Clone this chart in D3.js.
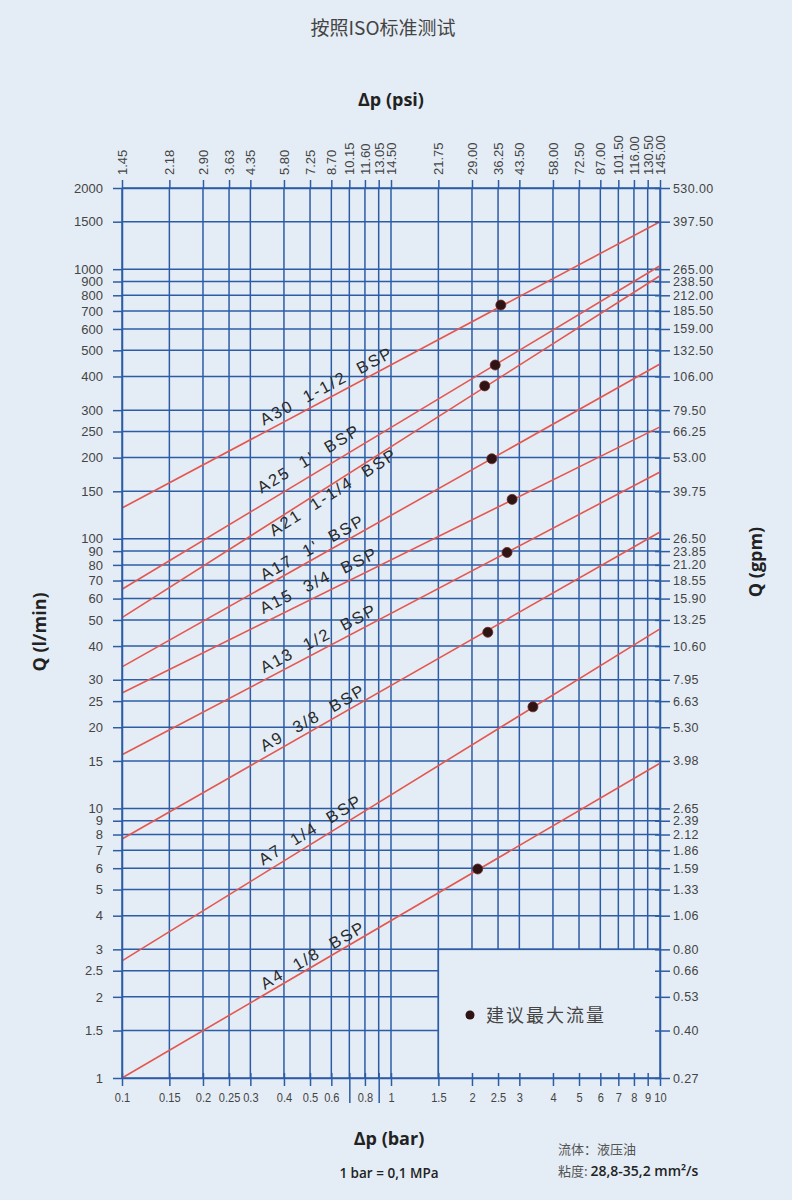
<!DOCTYPE html>
<html>
<head>
<meta charset="utf-8">
<script src="https://cdn.jsdelivr.net/npm/d3@7"></script>
<style>
body { margin: 0; background: #e4edf5; }
svg { display: block; }
</style>
</head>
<body>
<div id="chart"></div>
<script>
// pressure ticks (bar) and the psi equivalents on top
var barTicks = [0.1, 0.15, 0.2, 0.25, 0.3, 0.4, 0.5, 0.6, 0.7, 0.8, 0.9, 1, 1.5, 2, 2.5, 3, 4, 5, 6, 7, 8, 9, 10];
var barLabels = ["0.1", "0.15", "0.2", "0.25", "0.3", "0.4", "0.5", "0.6", "", "0.8", "", "1", "1.5", "2", "2.5", "3", "4", "5", "6", "7", "8", "9", "10"];
var psiLabels = ["1.45", "2.18", "2.90", "3.63", "4.35", "5.80", "7.25", "8.70", "10.15", "11.60", "13.05", "14.50", "21.75", "29.00", "36.25", "43.50", "58.00", "72.50", "87.00", "101.50", "116.00", "130.50", "145.00"];

// flow ticks (l/min) and gpm on the right
var flowTicks = [1, 1.5, 2, 2.5, 3, 4, 5, 6, 7, 8, 9, 10, 15, 20, 25, 30, 40, 50, 60, 70, 80, 90, 100, 150, 200, 250, 300, 400, 500, 600, 700, 800, 900, 1000, 1500, 2000];
var flowLabels = ["1", "1.5", "2", "2.5", "3", "4", "5", "6", "7", "8", "9", "10", "15", "20", "25", "30", "40", "50", "60", "70", "80", "90", "100", "150", "200", "250", "300", "400", "500", "600", "700", "800", "900", "1000", "1500", "2000"];
var gpmLabels = ["0.27", "0.40", "0.53", "0.66", "0.80", "1.06", "1.33", "1.59", "1.86", "2.12", "2.39", "2.65", "3.98", "5.30", "6.63", "7.95", "10.60", "13.25", "15.90", "18.55", "21.20", "23.85", "26.50", "39.75", "53.00", "66.25", "79.50", "106.00", "132.50", "159.00", "185.50", "212.00", "238.50", "265.00", "397.50", "530.00"];

// valve curves: flow at 0.1 bar and at 10 bar
var valveNames = ["A30  1-1/2  BSP", "A25  1'  BSP", "A21  1-1/4  BSP", "A17  1'  BSP", "A15  3/4  BSP", "A13  1/2  BSP", "A9  3/8  BSP", "A7  1/4  BSP", "A4  1/8  BSP"];
var qAtLow = [130, 65, 51, 33.5, 26.8, 15.8, 7.7, 2.72, 1.0];
var qAtHigh = [1500, 1030, 945, 445, 260, 177, 106, 46.3, 14.7];

// recommended max flow points
var maxDp = [2.56, 2.44, 2.23, 2.37, 2.82, 2.70, 2.29, 3.37, 2.10];
var maxQ = [736, 441, 369, 198, 140, 89, 45, 23.8, 5.96];

var blue = "#2d5ca6",
    red = "#e4574f",
    bg = "#e4edf5";

var width = 792, height = 1200;

var svg = d3.select("#chart").append("svg")
    .attr("width", width)
    .attr("height", height);

svg.append("rect").attr("width", width).attr("height", height).attr("fill", bg);

var x = d3.scaleLog().domain([0.1, 10]).range([122, 660]);
var y = d3.scaleLog().domain([1, 2000]).range([1078, 188]);

var plot = svg.append("g");

// grid
plot.append("g").selectAll("line")
    .data(barTicks)
    .join("line")
    .attr("x1", d => x(d)).attr("x2", d => x(d))
    .attr("y1", y.range()[1]).attr("y2", y.range()[0])
    .attr("stroke", blue).attr("stroke-width", 1.5);

plot.append("g").selectAll("line")
    .data(flowTicks)
    .join("line")
    .attr("x1", x.range()[0]).attr("x2", x.range()[1])
    .attr("y1", d => y(d)).attr("y2", d => y(d))
    .attr("stroke", blue).attr("stroke-width", 1.5);

// legend box covers the lower right corner of the grid
plot.append("rect")
    .attr("x", x(1.5)).attr("y", y(3))
    .attr("width", x(10) - x(1.5)).attr("height", y(1) - y(3))
    .attr("fill", bg).attr("stroke", blue).attr("stroke-width", 1.5);

// valve lines
var line = d3.line().x(d => x(d[0])).y(d => y(d[1]));

plot.append("g").selectAll("path")
    .data(valveNames.map((n, i) => [[0.1, qAtLow[i]], [10, qAtHigh[i]]]))
    .join("path")
    .attr("d", line)
    .attr("fill", "none")
    .attr("stroke", red)
    .attr("stroke-width", 1.6);

// labels along the lines
var labelDp = 0.345;
var labelOffset = [-6, -10, 13, -5, -8, -6, -5, -7, -4];

valveNames.forEach(function (name, i) {
    var ang = Math.atan2(y(qAtHigh[i]) - y(qAtLow[i]), x(10) - x(0.1)) * 180 / Math.PI;
    var t = Math.log10(labelDp / 0.1) / 2;
    var qq = Math.pow(10, Math.log10(qAtLow[i]) + t * (Math.log10(qAtHigh[i]) - Math.log10(qAtLow[i])));
    plot.append("text")
        .attr("transform", "translate(" + x(labelDp) + "," + y(qq) + ") rotate(" + ang + ")")
        .attr("y", labelOffset[i])
        .attr("xml:space", "preserve")
        .style("white-space", "pre")
        .attr("font-family", "Liberation Sans, Arial, sans-serif")
        .attr("font-size", 16.5)
        .attr("letter-spacing", 2)
        .attr("fill", "#2a2a2a")
        .text(name);
});

// max flow dots
plot.append("g").selectAll("circle")
    .data(maxDp)
    .join("circle")
    .attr("cx", d => x(d))
    .attr("cy", (d, i) => y(maxQ[i]))
    .attr("r", 5)
    .attr("fill", "#2e1414")
    .attr("stroke", "#6e2420")
    .attr("stroke-width", 0.8);

// axes
function styleAxis(g) {
    g.attr("font-family", "Liberation Sans, Arial, sans-serif").attr("font-size", 13);
    g.select(".domain").attr("stroke", blue).attr("stroke-width", 1.5);
    g.selectAll(".tick line").attr("stroke", blue).attr("stroke-width", 1.5);
    g.selectAll(".tick text").attr("fill", "#444");
}

var gLeft = svg.append("g")
    .attr("transform", "translate(" + x.range()[0] + ",0)")
    .call(d3.axisLeft(y).tickValues(flowTicks).tickFormat((d, i) => flowLabels[i])
        .tickSize(9).tickPadding(10).tickSizeOuter(0))
    .call(styleAxis);

var gRight = svg.append("g")
    .attr("transform", "translate(" + x.range()[1] + ",0)")
    .call(d3.axisRight(y).tickValues(flowTicks).tickFormat((d, i) => gpmLabels[i])
        .tickSize(10).tickPadding(3).tickSizeOuter(0))
    .call(styleAxis);
gRight.selectAll(".tick line").attr("x1", -5);
gRight.selectAll(".tick text").attr("font-size", 12.5).attr("letter-spacing", 0.4);

var gTop = svg.append("g")
    .attr("transform", "translate(0," + y.range()[1] + ")")
    .call(d3.axisTop(x).tickValues(barTicks).tickFormat((d, i) => psiLabels[i])
        .tickSize(8).tickSizeOuter(0))
    .call(styleAxis);
gTop.selectAll(".tick text")
    .attr("transform", "rotate(-90)")
    .attr("text-anchor", "start")
    .attr("x", 13).attr("y", 0).attr("dy", "0.35em");

var gBottom = svg.append("g")
    .attr("transform", "translate(0," + y.range()[0] + ")")
    .call(d3.axisBottom(x).tickValues(barTicks).tickFormat((d, i) => barLabels[i])
        .tickSize(8).tickPadding(6).tickSizeOuter(0))
    .call(styleAxis);
gBottom.selectAll(".tick line")
    .attr("y1", -5)
    .attr("y2", (d, i) => barLabels[i] === "" ? 25 : 8);
gBottom.selectAll(".tick text").attr("font-size", 13.5).attr("transform", "scale(0.82,1)");

// titles
var cjk = "Noto Sans CJK SC, sans-serif";
var bold = "Open Sans, Noto Sans, sans-serif";

svg.append("text").attr("x", 383).attr("y", 35).attr("text-anchor", "middle")
    .attr("font-family", cjk).attr("font-size", 19).attr("fill", "#444")
    .text("按照ISO标准测试");

svg.append("text").attr("x", 391).attr("y", 106).attr("text-anchor", "middle")
    .attr("font-family", bold).attr("font-weight", "bold").attr("font-size", 18).attr("fill", "#222")
    .text("Δp (psi)");

svg.append("text").attr("x", 389).attr("y", 1145).attr("text-anchor", "middle")
    .attr("font-family", bold).attr("font-weight", "bold").attr("font-size", 18).attr("fill", "#222")
    .text("Δp (bar)");

svg.append("text").attr("x", 389).attr("y", 1178).attr("text-anchor", "middle")
    .attr("font-family", bold).attr("font-weight", 600).attr("font-size", 13.5).attr("fill", "#222")
    .text("1 bar = 0,1 MPa");

svg.append("text").attr("transform", "translate(46,632) rotate(-90)").attr("text-anchor", "middle")
    .attr("font-family", bold).attr("font-weight", "bold").attr("font-size", 18).attr("fill", "#222")
    .text("Q (l/min)");

svg.append("text").attr("transform", "translate(762,562) rotate(-90)").attr("text-anchor", "middle")
    .attr("font-family", bold).attr("font-weight", "bold").attr("font-size", 18).attr("fill", "#222")
    .text("Q (gpm)");

// legend
svg.append("circle").attr("cx", 470).attr("cy", 1015).attr("r", 4.5).attr("fill", "#2e1414");
svg.append("text").attr("x", 486).attr("y", 1022)
    .attr("font-family", cjk).attr("font-size", 18).attr("letter-spacing", 2).attr("fill", "#444")
    .text("建议最大流量");

// fluid note
svg.append("text").attr("x", 558).attr("y", 1154)
    .attr("font-family", cjk).attr("font-size", 13).attr("fill", "#555")
    .text("流体：液压油");

var visc = svg.append("text").attr("x", 558).attr("y", 1176)
    .attr("font-family", cjk).attr("font-size", 13).attr("fill", "#555");
visc.append("tspan").text("粘度: ");
visc.append("tspan").attr("font-family", bold).attr("font-weight", 600).attr("font-size", 14)
    .attr("fill", "#222").text("28,8-35,2 mm²/s");
</script>
</body>
</html>
